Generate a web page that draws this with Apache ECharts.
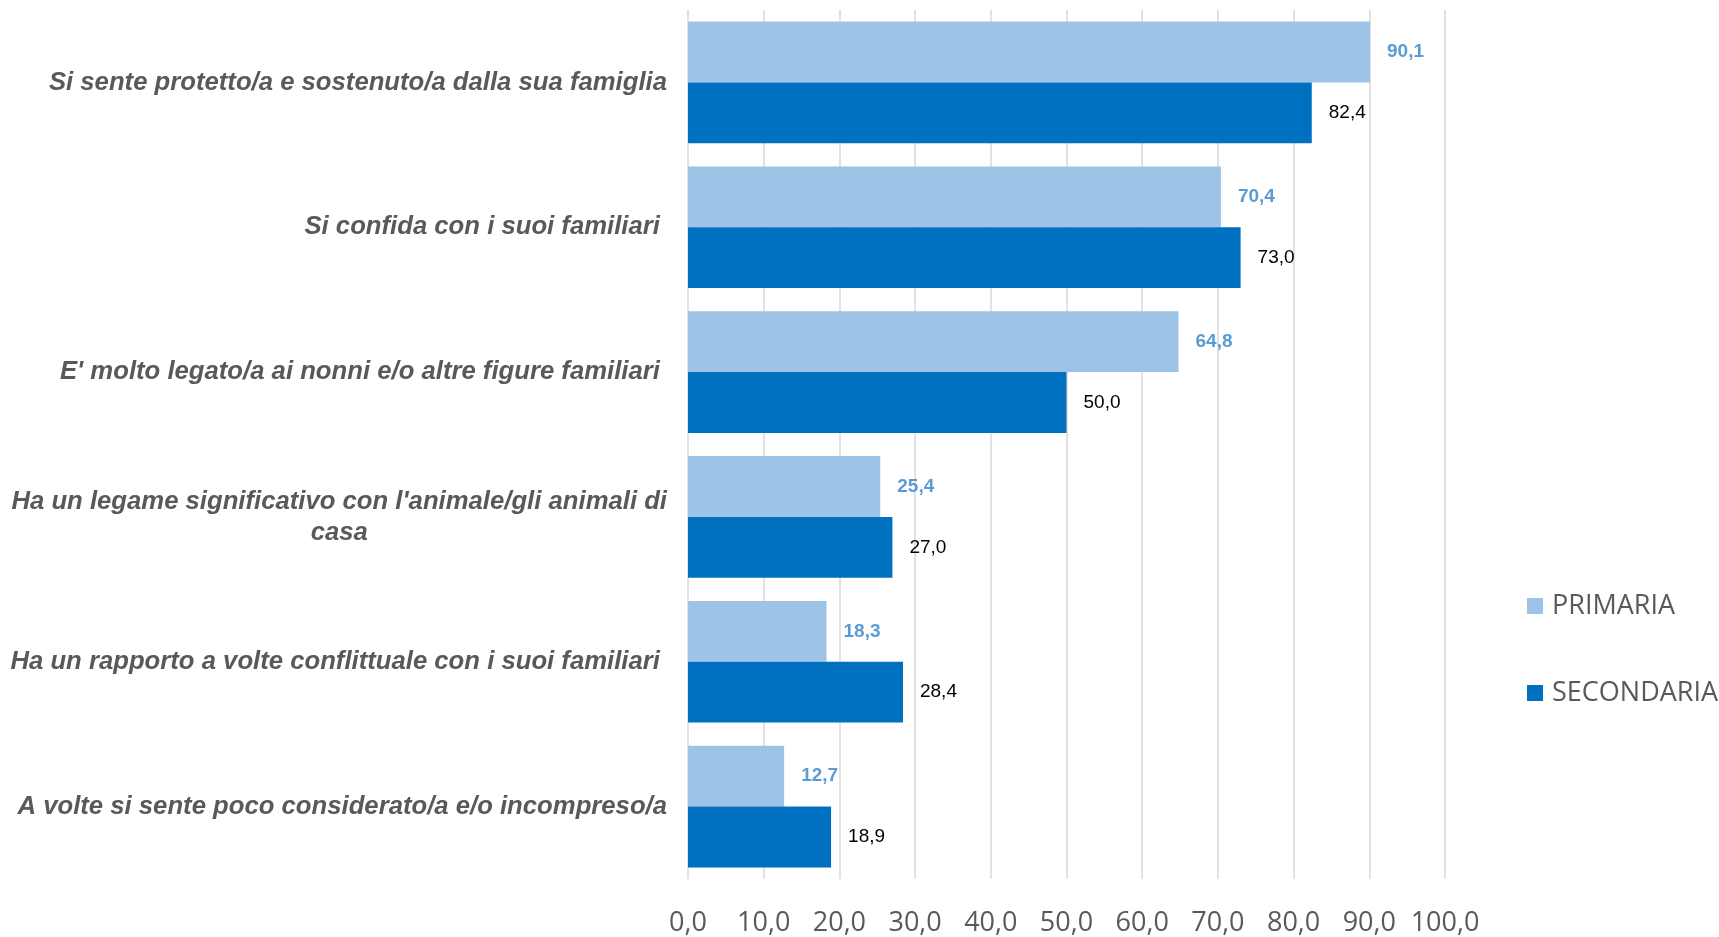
<!DOCTYPE html>
<html>
<head>
<meta charset="utf-8">
<script src="https://cdn.jsdelivr.net/npm/echarts@6/dist/echarts.min.js"></script>
<style>
html,body{margin:0;padding:0;background:#fff;}
#chart{width:1719px;height:937px;}
</style>
</head>
<body>
<div id="chart"></div>
<script>
const categories = [
  "Si sente protetto/a e sostenuto/a dalla sua famiglia",
  "Si confida con i suoi familiari ",
  "E' molto legato/a ai nonni e/o altre figure familiari ",
  "Ha un legame significativo con l'animale/gli animali di\ncasa",
  "Ha un rapporto a volte conflittuale con i suoi familiari ",
  "A volte si sente poco considerato/a e/o incompreso/a"
];
const seriesNames = ["PRIMARIA", "SECONDARIA"];
const primaria = [90.1, 70.4, 64.8, 25.4, 18.3, 12.7];
const secondaria = [82.4, 73.0, 50.0, 27.0, 28.4, 18.9];
const xTicks = [0, 10, 20, 30, 40, 50, 60, 70, 80, 90, 100];

const catFontSize = 25.7;
const catFont = 'italic bold ' + catFontSize + 'px "Liberation Sans", Arial, sans-serif';
function measure(t) {
  const c = document.createElement('canvas').getContext('2d');
  c.font = catFont;
  return c.measureText(t).width;
}
function fmt(v) { return Number(v).toFixed(1).replace('.', ','); }

const chart = echarts.init(document.getElementById('chart'));
const catStyle = {fontFamily: '"Liberation Sans", Arial, sans-serif', fontStyle: 'italic', fontWeight: 'bold', fontSize: catFontSize, color: '#595959', lineHeight: 31};

chart.setOption({
  animation: false,
  backgroundColor: '#ffffff',
  grid: {left: 688, right: 274, top: 10, bottom: 58, containLabel: false},
  legend: {
    orient: 'vertical',
    left: 1522,
    top: 586,
    itemWidth: 16,
    itemHeight: 16,
    itemGap: 57,
    icon: 'rect',
    textStyle: {fontFamily: '"Open Sans", sans-serif', fontSize: 27, color: '#595959', lineHeight: 30, padding: [0, 0, 0, 4]},
    data: seriesNames
  },
  xAxis: {
    type: 'value',
    min: xTicks[0],
    max: xTicks[xTicks.length - 1],
    interval: xTicks[1] - xTicks[0],
    axisLine: {show: false},
    axisTick: {show: false},
    splitLine: {show: true, lineStyle: {color: '#d9d9d9', width: 1.5}},
    axisLabel: {
      margin: 31,
      fontFamily: '"Open Sans", sans-serif',
      fontSize: 27,
      color: '#595959',
      formatter: fmt
    }
  },
  yAxis: {
    type: 'category',
    inverse: true,
    data: categories,
    axisLine: {show: false},
    axisTick: {show: false},
    axisLabel: {
      margin: 21,
      formatter: function (v) {
        if (v.indexOf('\n') < 0) return '{a|' + v + '}';
        return v.split('\n').map(l => '{c|' + l + '}').join('\n');
      },
      rich: {
        a: Object.assign({}, catStyle),
        c: Object.assign({}, catStyle, {width: measure(categories[3].split('\n')[0]), align: 'center'})
      }
    }
  },
  series: [
    {
      name: seriesNames[0],
      type: 'bar',
      data: primaria,
      barCategoryGap: '16%',
      barGap: '0%',
      itemStyle: {color: '#9DC3E6'},
      label: {
        show: true, position: 'right', distance: 17,
        fontFamily: '"Liberation Sans", Arial, sans-serif', fontSize: 19, fontWeight: 'bold', color: '#5B9BD5',
        formatter: p => fmt(p.value)
      }
    },
    {
      name: seriesNames[1],
      type: 'bar',
      data: secondaria,
      barCategoryGap: '16%',
      barGap: '0%',
      itemStyle: {color: '#0070C0'},
      label: {
        show: true, position: 'right', distance: 17,
        fontFamily: '"Liberation Sans", Arial, sans-serif', fontSize: 19, color: '#000000',
        formatter: p => fmt(p.value)
      }
    }
  ]
});
</script>
</body>
</html>
